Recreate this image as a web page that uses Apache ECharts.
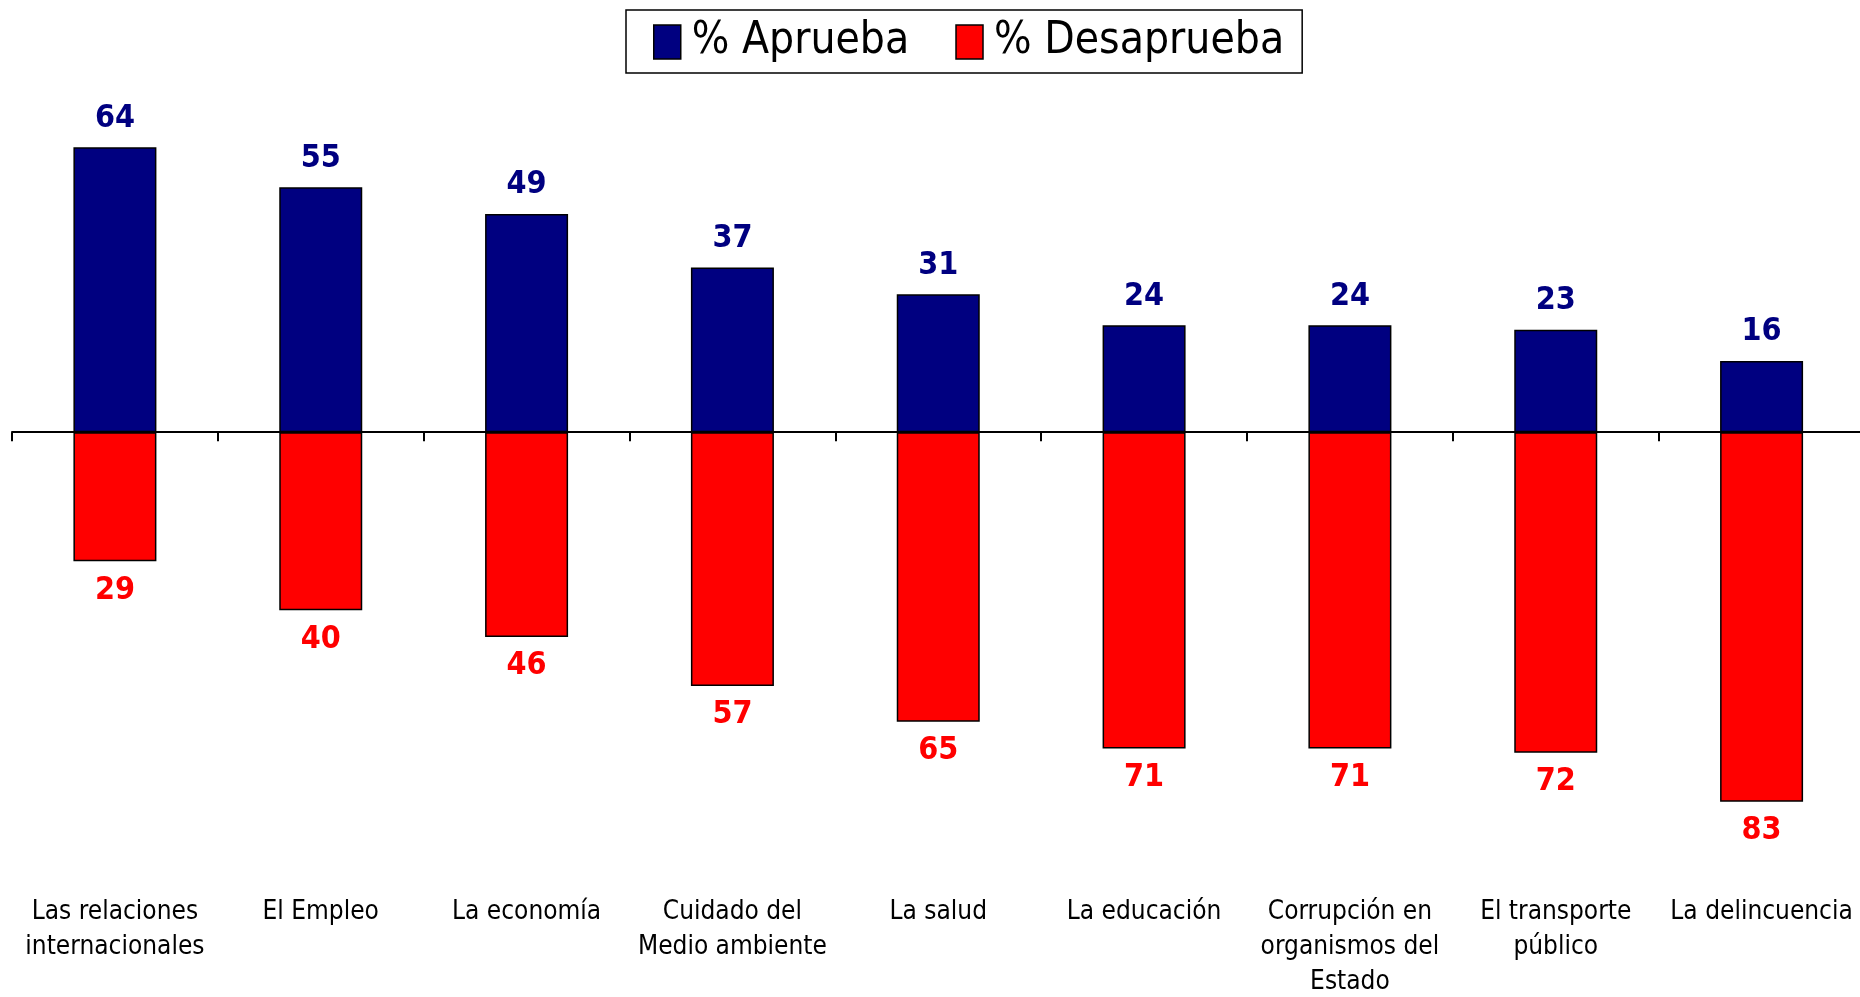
<!DOCTYPE html>
<html>
<head>
<meta charset="utf-8">
<script src="https://cdn.jsdelivr.net/npm/echarts@6/dist/echarts.min.js"></script>
<style>html,body{margin:0;padding:0;background:#fff;}#c{width:1860px;height:997px;}</style>
</head>
<body>
<div id="c"></div>
<script>
const categories = ['Las relaciones\ninternacionales', 'El Empleo', 'La economía', 'Cuidado del\nMedio ambiente', 'La salud', 'La educación', 'Corrupción en\norganismos del\nEstado', 'El transporte\npúblico', 'La delincuencia'];
const aprueba = [64, 55, 49, 37, 31, 24, 24, 23, 16];
const desaprueba = [29, 40, 46, 57, 65, 71, 71, 72, 83];
const seriesNames = ['% Aprueba', '% Desaprueba'];

const chart = echarts.init(document.getElementById('c'));
const labelFont = 'DejaVu Sans Condensed';
chart.setOption({
  animation: false,
  legend: {
    data: seriesNames,
    icon: 'rect',
    left: 626, top: 10,
    padding: [10, 18, 9, 27],
    borderColor: '#000', borderWidth: 1.5,
    itemWidth: 27, itemHeight: 34, itemGap: 46,
    itemStyle: { borderColor: '#000', borderWidth: 1.5 },
    textStyle: { fontFamily: labelFont, fontSize: 44, lineHeight: 44, color: '#000', padding: [0, 0, 0, 6] }
  },
  grid: { left: 12, right: -4.5, top: 76, height: 757, outerBoundsMode: 'none', containLabel: false },
  xAxis: [
    {
      type: 'category', data: categories, position: 'bottom',
      axisLine: { show: false, onZero: false }, axisTick: { show: false },
      axisLabel: { fontFamily: labelFont, fontSize: 26, lineHeight: 35, color: '#000', margin: 62, interval: 0 }
    },
    {
      type: 'category', data: categories, position: 'top',
      axisLine: { onZero: true, lineStyle: { color: '#000', width: 2 } },
      axisTick: { show: true, inside: true, length: 9, lineStyle: { color: '#000', width: 2 } },
      axisLabel: { show: false }
    }
  ],
  yAxis: { type: 'value', min: -90, max: 80, show: false, splitLine: { show: false } },
  series: [
    {
      name: seriesNames[0], type: 'bar', stack: 'a', barWidth: 83,
      data: aprueba,
      itemStyle: { color: '#000080', borderColor: '#000', borderWidth: 1.5 },
      label: { show: true, position: 'top', distance: 13, color: '#000080', fontFamily: labelFont, fontWeight: 'bold', fontSize: 32 }
    },
    {
      name: seriesNames[1], type: 'bar', stack: 'a', barWidth: 83,
      data: desaprueba.map(v => -v),
      itemStyle: { color: '#FF0000', borderColor: '#000', borderWidth: 1.5 },
      label: { show: true, position: 'bottom', distance: 13, color: '#FF0000', fontFamily: labelFont, fontWeight: 'bold', fontSize: 32, formatter: p => Math.abs(p.value) }
    }
  ]
});
</script>
</body>
</html>
